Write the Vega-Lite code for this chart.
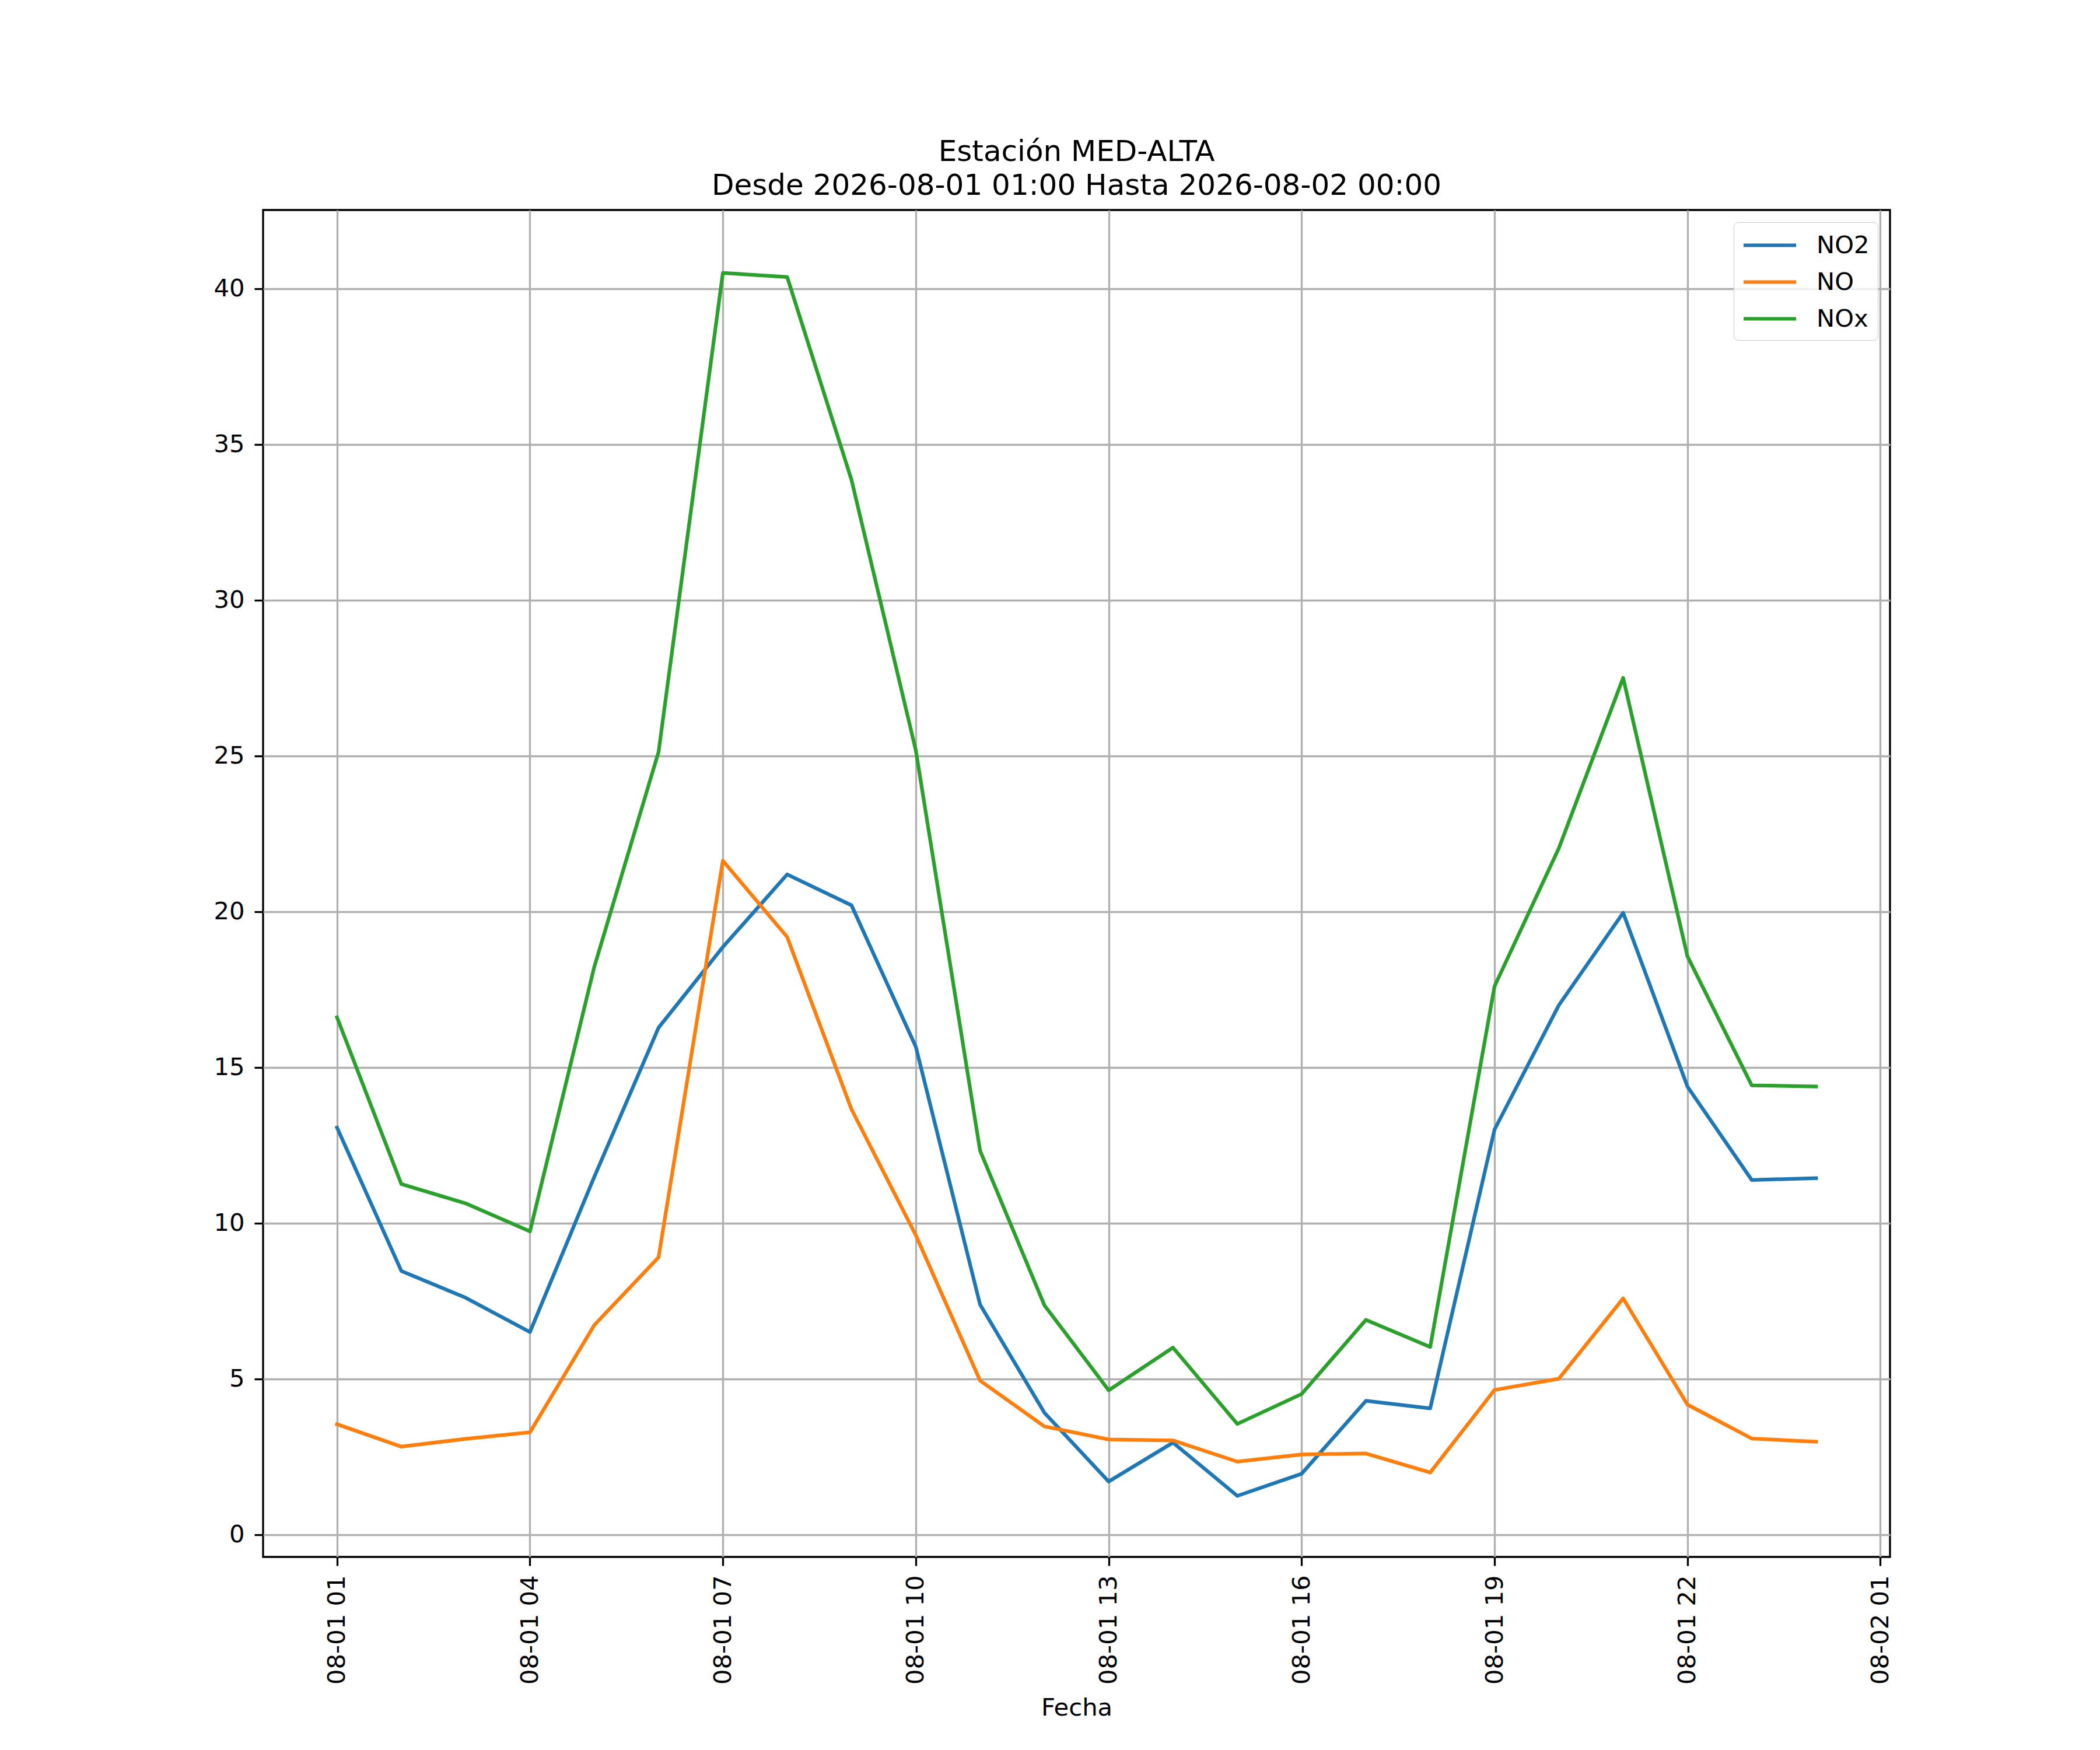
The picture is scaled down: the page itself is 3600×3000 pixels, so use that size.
{
  "$schema": "https://vega.github.io/schema/vega-lite/v6.json",
  "autosize": {"type": "none"},
  "padding": {"left": 451, "top": 360, "right": 360, "bottom": 331},
  "width": 2789,
  "height": 2309,
  "background": "white",
  "title": {
    "text": ["Estación MED-ALTA", "Desde 2026-08-01 01:00 Hasta 2026-08-02 00:00"],
    "frame": "group",
    "anchor": "middle",
    "font": "DejaVu Sans",
    "fontSize": 50,
    "fontWeight": "normal",
    "color": "black",
    "lineHeight": 58,
    "baseline": "alphabetic",
    "offset": -24
  },
  "config": {
    "view": {"stroke": "black", "strokeWidth": 3.3},
    "font": "DejaVu Sans"
  },
  "datasets": {
    "medidas": [
      {"fecha": "2026-08-01T01:00:00", "serie": "NO2", "valor": 13.06},
      {"fecha": "2026-08-01T02:00:00", "serie": "NO2", "valor": 8.46},
      {"fecha": "2026-08-01T03:00:00", "serie": "NO2", "valor": 7.6},
      {"fecha": "2026-08-01T04:00:00", "serie": "NO2", "valor": 6.5},
      {"fecha": "2026-08-01T05:00:00", "serie": "NO2", "valor": 11.48},
      {"fecha": "2026-08-01T06:00:00", "serie": "NO2", "valor": 16.27},
      {"fecha": "2026-08-01T07:00:00", "serie": "NO2", "valor": 18.86},
      {"fecha": "2026-08-01T08:00:00", "serie": "NO2", "valor": 21.19},
      {"fecha": "2026-08-01T09:00:00", "serie": "NO2", "valor": 20.2},
      {"fecha": "2026-08-01T10:00:00", "serie": "NO2", "valor": 15.66},
      {"fecha": "2026-08-01T11:00:00", "serie": "NO2", "valor": 7.38},
      {"fecha": "2026-08-01T12:00:00", "serie": "NO2", "valor": 3.91},
      {"fecha": "2026-08-01T13:00:00", "serie": "NO2", "valor": 1.7},
      {"fecha": "2026-08-01T14:00:00", "serie": "NO2", "valor": 2.95},
      {"fecha": "2026-08-01T15:00:00", "serie": "NO2", "valor": 1.24},
      {"fecha": "2026-08-01T16:00:00", "serie": "NO2", "valor": 1.95},
      {"fecha": "2026-08-01T17:00:00", "serie": "NO2", "valor": 4.29},
      {"fecha": "2026-08-01T18:00:00", "serie": "NO2", "valor": 4.05},
      {"fecha": "2026-08-01T19:00:00", "serie": "NO2", "valor": 13.0},
      {"fecha": "2026-08-01T20:00:00", "serie": "NO2", "valor": 16.99},
      {"fecha": "2026-08-01T21:00:00", "serie": "NO2", "valor": 19.96},
      {"fecha": "2026-08-01T22:00:00", "serie": "NO2", "valor": 14.38},
      {"fecha": "2026-08-01T23:00:00", "serie": "NO2", "valor": 11.38},
      {"fecha": "2026-08-02T00:00:00", "serie": "NO2", "valor": 11.44},
      {"fecha": "2026-08-01T01:00:00", "serie": "NO", "valor": 3.54},
      {"fecha": "2026-08-01T02:00:00", "serie": "NO", "valor": 2.82},
      {"fecha": "2026-08-01T03:00:00", "serie": "NO", "valor": 3.07},
      {"fecha": "2026-08-01T04:00:00", "serie": "NO", "valor": 3.28},
      {"fecha": "2026-08-01T05:00:00", "serie": "NO", "valor": 6.72},
      {"fecha": "2026-08-01T06:00:00", "serie": "NO", "valor": 8.9},
      {"fecha": "2026-08-01T07:00:00", "serie": "NO", "valor": 21.63},
      {"fecha": "2026-08-01T08:00:00", "serie": "NO", "valor": 19.18},
      {"fecha": "2026-08-01T09:00:00", "serie": "NO", "valor": 13.65},
      {"fecha": "2026-08-01T10:00:00", "serie": "NO", "valor": 9.61},
      {"fecha": "2026-08-01T11:00:00", "serie": "NO", "valor": 4.94},
      {"fecha": "2026-08-01T12:00:00", "serie": "NO", "valor": 3.47},
      {"fecha": "2026-08-01T13:00:00", "serie": "NO", "valor": 3.05},
      {"fecha": "2026-08-01T14:00:00", "serie": "NO", "valor": 3.02},
      {"fecha": "2026-08-01T15:00:00", "serie": "NO", "valor": 2.34},
      {"fecha": "2026-08-01T16:00:00", "serie": "NO", "valor": 2.57},
      {"fecha": "2026-08-01T17:00:00", "serie": "NO", "valor": 2.6},
      {"fecha": "2026-08-01T18:00:00", "serie": "NO", "valor": 1.99},
      {"fecha": "2026-08-01T19:00:00", "serie": "NO", "valor": 4.64},
      {"fecha": "2026-08-01T20:00:00", "serie": "NO", "valor": 5.0},
      {"fecha": "2026-08-01T21:00:00", "serie": "NO", "valor": 7.58},
      {"fecha": "2026-08-01T22:00:00", "serie": "NO", "valor": 4.17},
      {"fecha": "2026-08-01T23:00:00", "serie": "NO", "valor": 3.08},
      {"fecha": "2026-08-02T00:00:00", "serie": "NO", "valor": 2.98},
      {"fecha": "2026-08-01T01:00:00", "serie": "NOx", "valor": 16.6},
      {"fecha": "2026-08-01T02:00:00", "serie": "NOx", "valor": 11.25},
      {"fecha": "2026-08-01T03:00:00", "serie": "NOx", "valor": 10.63},
      {"fecha": "2026-08-01T04:00:00", "serie": "NOx", "valor": 9.73},
      {"fecha": "2026-08-01T05:00:00", "serie": "NOx", "valor": 18.22},
      {"fecha": "2026-08-01T06:00:00", "serie": "NOx", "valor": 25.12},
      {"fecha": "2026-08-01T07:00:00", "serie": "NOx", "valor": 40.5},
      {"fecha": "2026-08-01T08:00:00", "serie": "NOx", "valor": 40.37},
      {"fecha": "2026-08-01T09:00:00", "serie": "NOx", "valor": 33.86},
      {"fecha": "2026-08-01T10:00:00", "serie": "NOx", "valor": 25.18},
      {"fecha": "2026-08-01T11:00:00", "serie": "NOx", "valor": 12.32},
      {"fecha": "2026-08-01T12:00:00", "serie": "NOx", "valor": 7.36},
      {"fecha": "2026-08-01T13:00:00", "serie": "NOx", "valor": 4.63},
      {"fecha": "2026-08-01T14:00:00", "serie": "NOx", "valor": 6.0},
      {"fecha": "2026-08-01T15:00:00", "serie": "NOx", "valor": 3.55},
      {"fecha": "2026-08-01T16:00:00", "serie": "NOx", "valor": 4.51},
      {"fecha": "2026-08-01T17:00:00", "serie": "NOx", "valor": 6.89},
      {"fecha": "2026-08-01T18:00:00", "serie": "NOx", "valor": 6.02},
      {"fecha": "2026-08-01T19:00:00", "serie": "NOx", "valor": 17.6},
      {"fecha": "2026-08-01T20:00:00", "serie": "NOx", "valor": 22.03},
      {"fecha": "2026-08-01T21:00:00", "serie": "NOx", "valor": 27.5},
      {"fecha": "2026-08-01T22:00:00", "serie": "NOx", "valor": 18.56},
      {"fecha": "2026-08-01T23:00:00", "serie": "NOx", "valor": 14.42},
      {"fecha": "2026-08-02T00:00:00", "serie": "NOx", "valor": 14.38}
    ]
  },
  "data": {"name": "medidas"},
  "mark": {"type": "line", "strokeWidth": 6.25, "strokeJoin": "round", "strokeCap": "square", "clip": true},
  "encoding": {
    "x": {
      "field": "fecha",
      "type": "temporal",
      "title": "Fecha",
      "scale": {
        "type": "time",
        "domain": [
          {"year": 2026, "month": 7, "date": 31, "hours": 23, "minutes": 51},
          {"year": 2026, "month": 8, "date": 2, "hours": 1, "minutes": 9}
        ],
        "nice": false
      },
      "axis": {
        "values": [
          {"year": 2026, "month": 8, "date": 1, "hours": 1},
          {"year": 2026, "month": 8, "date": 1, "hours": 4},
          {"year": 2026, "month": 8, "date": 1, "hours": 7},
          {"year": 2026, "month": 8, "date": 1, "hours": 10},
          {"year": 2026, "month": 8, "date": 1, "hours": 13},
          {"year": 2026, "month": 8, "date": 1, "hours": 16},
          {"year": 2026, "month": 8, "date": 1, "hours": 19},
          {"year": 2026, "month": 8, "date": 1, "hours": 22},
          {"year": 2026, "month": 8, "date": 2, "hours": 1}
        ],
        "format": "%m-%d %H",
        "labelAngle": 270,
        "labelFont": "DejaVu Sans",
        "labelFontSize": 41.7,
        "labelColor": "black",
        "labelPadding": 16,
        "labelLimit": 0,
        "labelFlush": false,
        "labelOverlap": false,
        "labelBound": false,
        "tickColor": "black",
        "tickWidth": 3.3,
        "tickSize": 15,
        "domain": false,
        "grid": true,
        "gridColor": "#b0b0b0",
        "gridWidth": 3.3,
        "titleFont": "DejaVu Sans",
        "titleFontSize": 41.7,
        "titleFontWeight": "normal",
        "titleColor": "black",
        "titlePadding": 38
      }
    },
    "y": {
      "field": "valor",
      "type": "quantitative",
      "title": null,
      "scale": {"domain": [-0.72, 42.52], "nice": false, "zero": false},
      "axis": {
        "values": [0, 5, 10, 15, 20, 25, 30, 35, 40],
        "labelFont": "DejaVu Sans",
        "labelFontSize": 41.7,
        "labelColor": "black",
        "labelPadding": 17,
        "labelFlush": false,
        "labelOverlap": false,
        "tickColor": "black",
        "tickWidth": 3.3,
        "tickSize": 15,
        "domain": false,
        "grid": true,
        "gridColor": "#b0b0b0",
        "gridWidth": 3.3
      }
    },
    "color": {
      "field": "serie",
      "type": "nominal",
      "sort": ["NO2", "NO", "NOx"],
      "scale": {"domain": ["NO2", "NO", "NOx"], "range": ["#1f77b4", "#ff7f0e", "#2ca02c"]},
      "legend": {
        "title": null,
        "orient": "top-right",
        "offset": 21,
        "padding": 14,
        "fillColor": "rgba(255,255,255,0.8)",
        "strokeColor": "#cccccc",
        "cornerRadius": 8,
        "symbolType": "M-1,0H3",
        "symbolSize": 2025,
        "symbolStrokeWidth": 6,
        "labelFont": "DejaVu Sans",
        "labelFontSize": 41.7,
        "labelColor": "black",
        "labelOffset": 77,
        "rowPadding": 15
      }
    }
  }
}
